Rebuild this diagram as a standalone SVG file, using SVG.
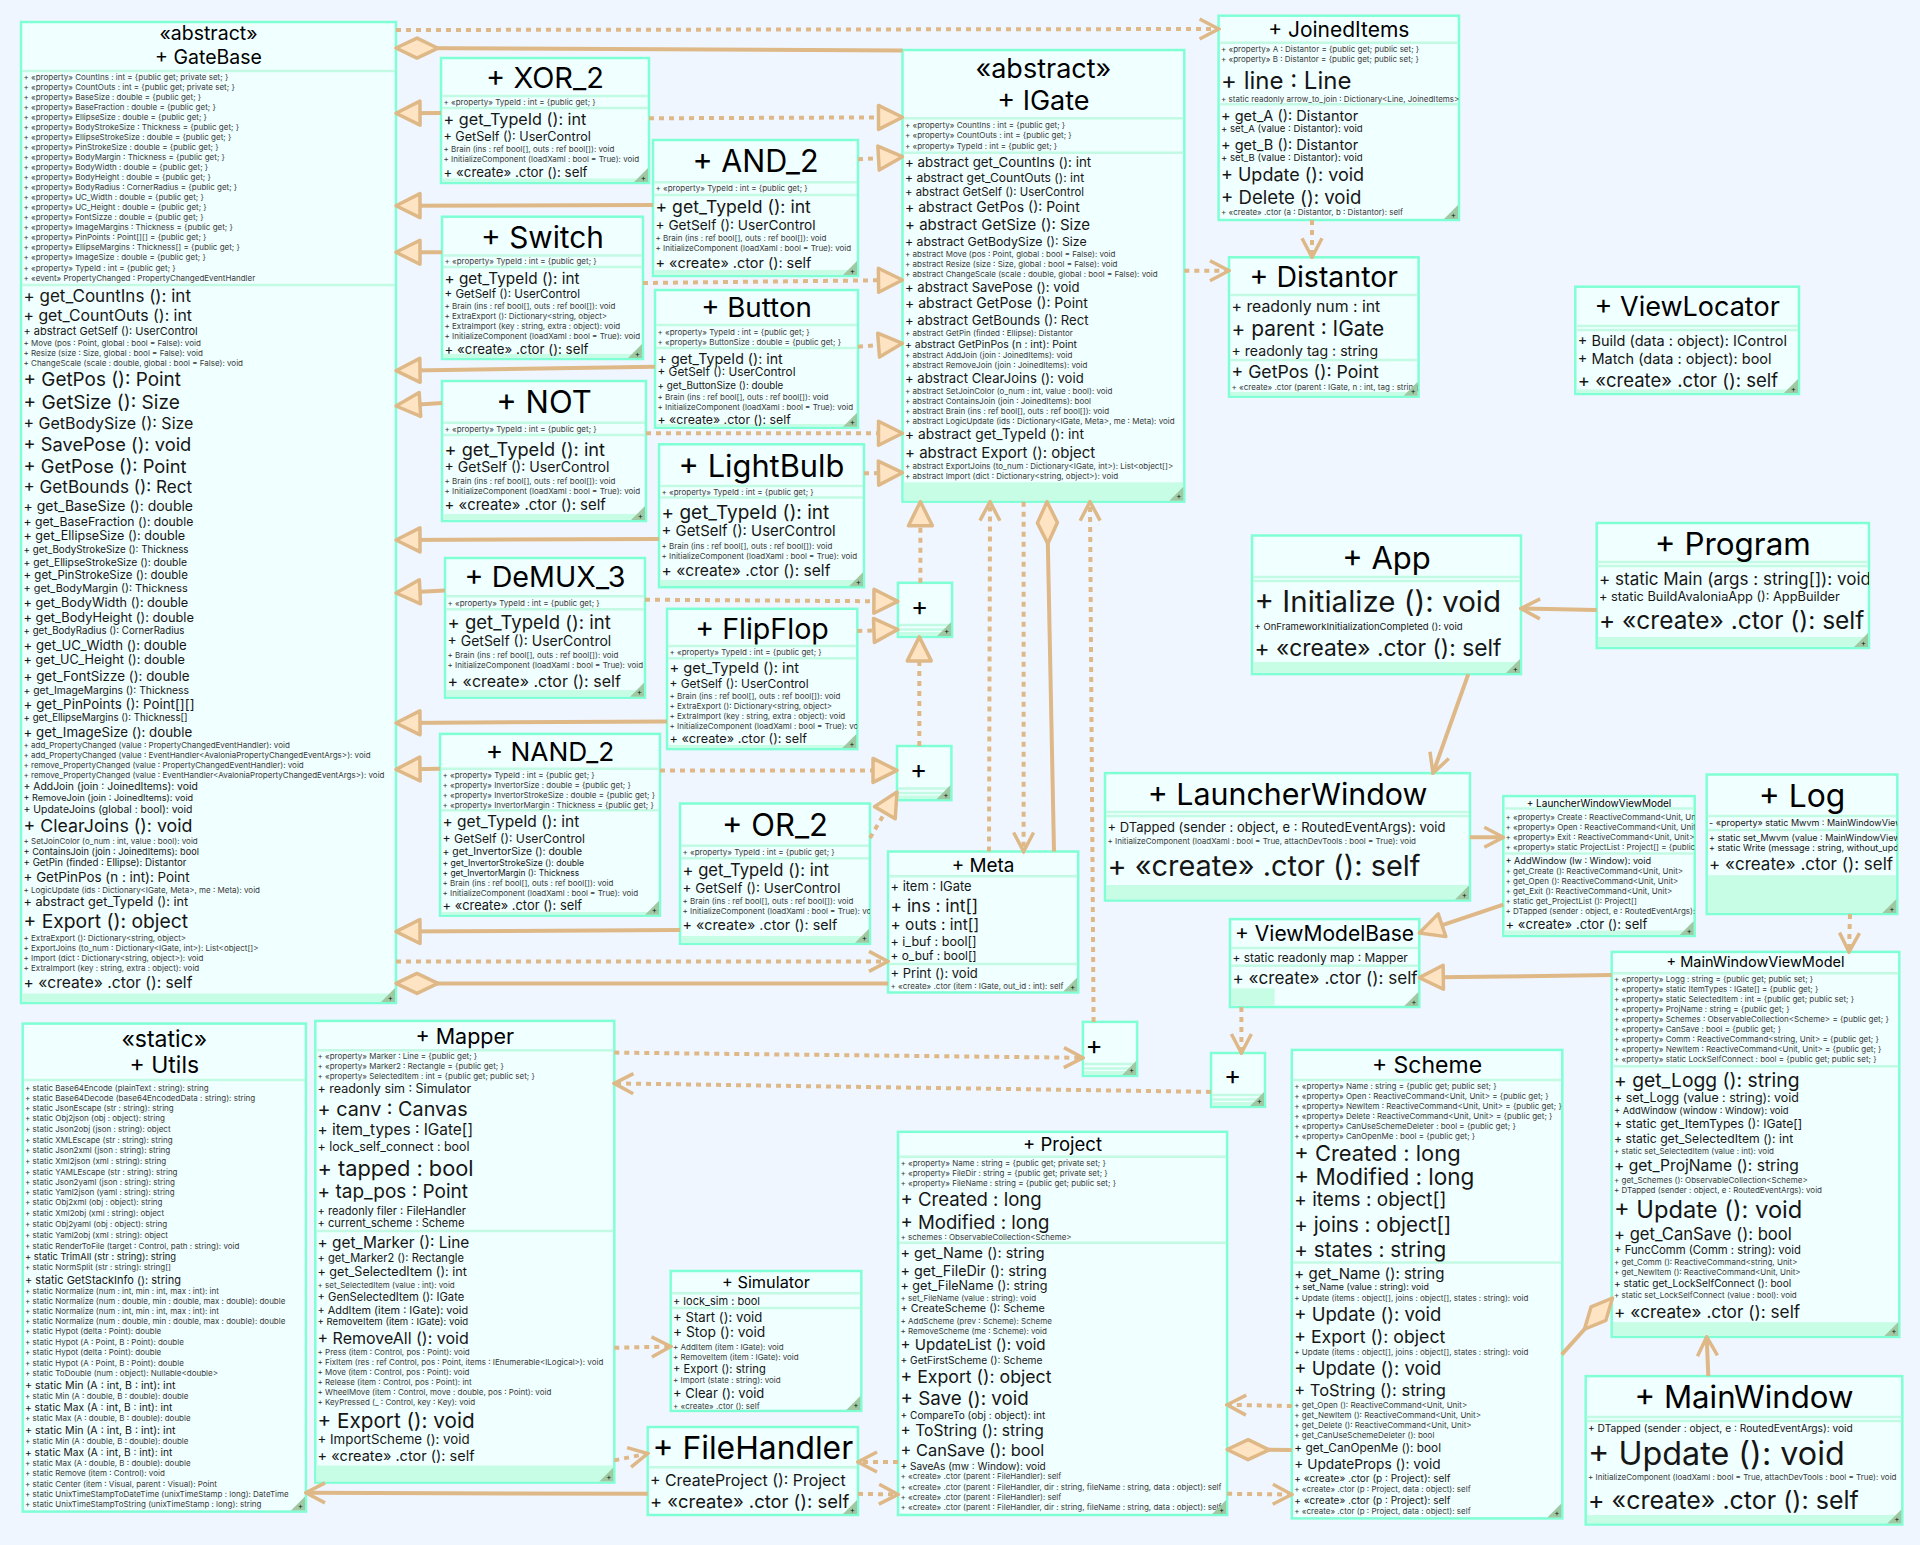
<svg xmlns="http://www.w3.org/2000/svg" width="1920" height="1545" viewBox="0 0 1920 1545">
<defs>
<style>
text{font-family:Inter,"Liberation Sans",sans-serif;fill:#161616;dominant-baseline:central}
.s{font-size:8px;fill:#3a3a3a}
.tt{text-anchor:middle;fill:#000}
.nb{fill:#F0FFFF;stroke:#7FFFD4;stroke-width:2.5}
.sp{stroke:#C2FAE3;stroke-width:2.5;fill:none}
.ms{fill:#C8FDE5}
.e{stroke:#DEB887;stroke-width:4;fill:none}
.d{stroke-dasharray:5 5}
.pl{font-size:26px;fill:#000}
.mk{fill:#FFE4C4;stroke:#DEB887;stroke-width:3.5;stroke-dasharray:none;stroke-linejoin:round}
.mc{fill:none;stroke:#DEB887;stroke-width:3.5;stroke-dasharray:none}
</style>
<marker id="tri" viewBox="0 0 30 30" refX="27" refY="15" markerWidth="30" markerHeight="30" markerUnits="userSpaceOnUse" orient="auto"><path class="mk" d="M3,3 L27,15 L3,27 Z"/></marker>
<marker id="chev" viewBox="0 0 24 24" refX="22" refY="12" markerWidth="24" markerHeight="24" markerUnits="userSpaceOnUse" orient="auto"><path class="mc" d="M3,2 L22,12 L3,22"/></marker>
<marker id="dia" viewBox="0 0 48 26" refX="2" refY="13" markerWidth="48" markerHeight="26" markerUnits="userSpaceOnUse" orient="auto"><path class="mk" d="M2,13 L23,3 L44,13 L23,23 Z"/></marker>
<g id="cr"><path d="M15,1V15H1Z" fill="#9FC9A3"/><text x="10.5" y="10.5" font-size="8" fill="#6A5A9A" text-anchor="middle">+</text></g>
</defs>
<rect width="1920" height="1545" fill="#F0F6FF"/>

<g id="GateBase">
<rect class="nb" x="21" y="22" width="375" height="981"/>
<path class="sp" d="M22,71H395M22,285H395"/>
<rect class="ms" x="22.2" y="993.5" width="372.6" height="8.3"/>
<svg x="21" y="22" width="375" height="981" viewBox="21 22 375 981">
<text class="tt" x="208.5" y="33.3" font-size="19.5">«abstract»</text>
<text class="tt" x="208.5" y="57" font-size="19.5">+ GateBase</text>
<text class="s" x="23.5" y="76.7">+ «property» CountIns : int = {public get; private set; }</text>
<text class="s" x="23.5" y="86.7">+ «property» CountOuts : int = {public get; private set; }</text>
<text class="s" x="23.5" y="96.7">+ «property» BaseSize : double = {public get; }</text>
<text class="s" x="23.5" y="106.7">+ «property» BaseFraction : double = {public get; }</text>
<text class="s" x="23.5" y="116.7">+ «property» EllipseSize : double = {public get; }</text>
<text class="s" x="23.5" y="126.7">+ «property» BodyStrokeSize : Thickness = {public get; }</text>
<text class="s" x="23.5" y="136.7">+ «property» EllipseStrokeSize : double = {public get; }</text>
<text class="s" x="23.5" y="146.7">+ «property» PinStrokeSize : double = {public get; }</text>
<text class="s" x="23.5" y="156.7">+ «property» BodyMargin : Thickness = {public get; }</text>
<text class="s" x="23.5" y="166.7">+ «property» BodyWidth : double = {public get; }</text>
<text class="s" x="23.5" y="176.7">+ «property» BodyHeight : double = {public get; }</text>
<text class="s" x="23.5" y="186.7">+ «property» BodyRadius : CornerRadius = {public get; }</text>
<text class="s" x="23.5" y="196.7">+ «property» UC_Width : double = {public get; }</text>
<text class="s" x="23.5" y="206.7">+ «property» UC_Height : double = {public get; }</text>
<text class="s" x="23.5" y="216.7">+ «property» FontSizze : double = {public get; }</text>
<text class="s" x="23.5" y="226.7">+ «property» ImageMargins : Thickness = {public get; }</text>
<text class="s" x="23.5" y="236.7">+ «property» PinPoints : Point[][] = {public get; }</text>
<text class="s" x="23.5" y="246.7">+ «property» EllipseMargins : Thickness[] = {public get; }</text>
<text class="s" x="23.5" y="256.7">+ «property» ImageSize : double = {public get; }</text>
<text class="s" x="23.5" y="267.7" font-size="8.8">+ «property» TypeId : int = {public get; }</text>
<text class="s" x="23.5" y="277.7">+ «event» PropertyChanged : PropertyChangedEventHandler</text>
<text x="23.5" y="296" font-size="17">+ get_CountIns (): int</text>
<text x="23.5" y="315.3" font-size="15.8">+ get_CountOuts (): int</text>
<text x="23.5" y="331" font-size="11">+ abstract GetSelf (): UserControl</text>
<text class="s" x="23.5" y="342.7">+ Move (pos : Point, global : bool = False): void</text>
<text class="s" x="23.5" y="352.7">+ Resize (size : Size, global : bool = False): void</text>
<text class="s" x="23.5" y="362.7">+ ChangeScale (scale : double, global : bool = False): void</text>
<text x="23.5" y="379.3" font-size="18.9">+ GetPos (): Point</text>
<text x="23.5" y="401.7" font-size="19.1">+ GetSize (): Size</text>
<text x="23.5" y="422.7" font-size="16">+ GetBodySize (): Size</text>
<text x="23.5" y="444.3" font-size="18.3">+ SavePose (): void</text>
<text x="23.5" y="466" font-size="18.3">+ GetPose (): Point</text>
<text x="23.5" y="486.7" font-size="17.1">+ GetBounds (): Rect</text>
<text x="23.5" y="505" font-size="14">+ get_BaseSize (): double</text>
<text x="23.5" y="521.6" font-size="12.2">+ get_BaseFraction (): double</text>
<text x="23.5" y="535.8" font-size="12.6">+ get_EllipseSize (): double</text>
<text x="23.5" y="549.3" font-size="9.8">+ get_BodyStrokeSize (): Thickness</text>
<text x="23.5" y="562.2" font-size="10.3">+ get_EllipseStrokeSize (): double</text>
<text x="23.5" y="575" font-size="11.5">+ get_PinStrokeSize (): double</text>
<text x="23.5" y="587.9" font-size="10.9">+ get_BodyMargin (): Thickness</text>
<text x="23.5" y="602.1" font-size="12.7">+ get_BodyWidth (): double</text>
<text x="23.5" y="617" font-size="12.8">+ get_BodyHeight (): double</text>
<text x="23.5" y="630.1" font-size="9.7">+ get_BodyRadius (): CornerRadius</text>
<text x="23.5" y="644.7" font-size="13.2">+ get_UC_Width (): double</text>
<text x="23.5" y="659.9" font-size="12.7">+ get_UC_Height (): double</text>
<text x="23.5" y="675.8" font-size="13.4">+ get_FontSizze (): double</text>
<text x="23.5" y="690.3" font-size="10.3">+ get_ImageMargins (): Thickness</text>
<text x="23.5" y="703.8" font-size="13.4">+ get_PinPoints (): Point[][]</text>
<text x="23.5" y="717" font-size="9.7">+ get_EllipseMargins (): Thickness[]</text>
<text x="23.5" y="731.9" font-size="13.3">+ get_ImageSize (): double</text>
<text class="s" x="23.5" y="744.7">+ add_PropertyChanged (value : PropertyChangedEventHandler): void</text>
<text class="s" x="23.5" y="754.9">+ add_PropertyChanged (value : EventHandler&lt;AvaloniaPropertyChangedEventArgs&gt;): void</text>
<text class="s" x="23.5" y="765">+ remove_PropertyChanged (value : PropertyChangedEventHandler): void</text>
<text class="s" x="23.5" y="774.8">+ remove_PropertyChanged (value : EventHandler&lt;AvaloniaPropertyChangedEventArgs&gt;): void</text>
<text x="23.5" y="786.3" font-size="10.4">+ AddJoin (join : JoinedItems): void</text>
<text x="23.5" y="797.8" font-size="9.1">+ RemoveJoin (join : JoinedItems): void</text>
<text x="23.5" y="809.3" font-size="10.4">+ UpdateJoins (global : bool): void</text>
<text x="23.5" y="825.5" font-size="17.8">+ ClearJoins (): void</text>
<text class="s" x="23.5" y="840.7" font-size="8.5">+ SetJoinColor (o_num : int, value : bool): void</text>
<text x="23.5" y="851.5" font-size="9.2">+ ContainsJoin (join : JoinedItems): bool</text>
<text x="23.5" y="862" font-size="9.7">+ GetPin (finded : Ellipse): Distantor</text>
<text x="23.5" y="876.5" font-size="13.4">+ GetPinPos (n : int): Point</text>
<text class="s" x="23.5" y="889.7">+ LogicUpdate (ids : Dictionary&lt;IGate, Meta&gt;, me : Meta): void</text>
<text x="23.5" y="901.9" font-size="12.7">+ abstract get_TypeId (): int</text>
<text x="23.5" y="920.8" font-size="19.3">+ Export (): object</text>
<text class="s" x="23.5" y="937.7">+ ExtraExport (): Dictionary&lt;string, object&gt;</text>
<text class="s" x="23.5" y="947.9">+ ExportJoins (to_num : Dictionary&lt;IGate, int&gt;): List&lt;object[]&gt;</text>
<text class="s" x="23.5" y="957.7">+ Import (dict : Dictionary&lt;string, object&gt;): void</text>
<text class="s" x="23.5" y="967.8">+ ExtraImport (key : string, extra : object): void</text>
<text x="23.5" y="982.7" font-size="15.6">+ «create» .ctor (): self</text>
</svg>
<use href="#cr" x="380" y="987"/>
</g>

<g id="XOR_2">
<rect class="nb" x="441" y="58" width="208" height="125"/>
<path class="sp" d="M442,96H648M442,108H648"/>
<rect class="ms" x="442.2" y="178.5" width="205.6" height="3.3"/>
<svg x="441" y="58" width="208" height="125" viewBox="441 58 208 125">
<text class="tt" x="545" y="77.3" font-size="29">+ XOR_2</text>
<text class="s" x="443.5" y="101.7">+ «property» TypeId : int = {public get; }</text>
<text x="443.5" y="119" font-size="16.2">+ get_TypeId (): int</text>
<text x="443.5" y="136.7" font-size="12.6">+ GetSelf (): UserControl</text>
<text class="s" x="443.5" y="148.7">+ Brain (ins : ref bool[], outs : ref bool[]): void</text>
<text class="s" x="443.5" y="158.7">+ InitializeComponent (loadXaml : bool = True): void</text>
<text x="443.5" y="172" font-size="13.3">+ «create» .ctor (): self</text>
</svg>
<use href="#cr" x="633" y="167"/>
</g>

<g id="AND_2">
<rect class="nb" x="653" y="140" width="205" height="136"/>
<path class="sp" d="M654,182.3H857M654,195H857"/>
<rect class="ms" x="654.2" y="270" width="202.6" height="4.8"/>
<svg x="653" y="140" width="205" height="136" viewBox="653 140 205 136">
<text class="tt" x="755.5" y="160.7" font-size="30.5">+ AND_2</text>
<text class="s" x="655.5" y="188.3">+ «property» TypeId : int = {public get; }</text>
<text x="655.5" y="206.7" font-size="17.6">+ get_TypeId (): int</text>
<text x="655.5" y="224.7" font-size="13.7">+ GetSelf (): UserControl</text>
<text class="s" x="655.5" y="237.7">+ Brain (ins : ref bool[], outs : ref bool[]): void</text>
<text class="s" x="655.5" y="247.7">+ InitializeComponent (loadXaml : bool = True): void</text>
<text x="655.5" y="262" font-size="14.4">+ «create» .ctor (): self</text>
</svg>
<use href="#cr" x="842" y="260"/>
</g>

<g id="Switch">
<rect class="nb" x="442" y="216.7" width="201" height="142.3"/>
<path class="sp" d="M443,255.5H642M443,267H642"/>
<rect class="ms" x="443.2" y="354" width="198.6" height="3.8"/>
<svg x="442" y="216.7" width="201" height="142.3" viewBox="442 216.7 201 142.3">
<text class="tt" x="542.5" y="236.7" font-size="29.8">+ Switch</text>
<text class="s" x="444.5" y="261">+ «property» TypeId : int = {public get; }</text>
<text x="444.5" y="278" font-size="15.3">+ get_TypeId (): int</text>
<text x="444.5" y="294" font-size="11.6">+ GetSelf (): UserControl</text>
<text class="s" x="444.5" y="305.7">+ Brain (ins : ref bool[], outs : ref bool[]): void</text>
<text class="s" x="444.5" y="315.7">+ ExtraExport (): Dictionary&lt;string, object&gt;</text>
<text class="s" x="444.5" y="325.7">+ ExtraImport (key : string, extra : object): void</text>
<text class="s" x="444.5" y="335.7">+ InitializeComponent (loadXaml : bool = True): void</text>
<text x="444.5" y="349" font-size="13.3">+ «create» .ctor (): self</text>
</svg>
<use href="#cr" x="627" y="343"/>
</g>

<g id="Button">
<rect class="nb" x="655" y="290" width="203" height="137.7"/>
<path class="sp" d="M656,325H857M656,348H857"/>
<rect class="ms" x="656.2" y="424" width="200.6" height="2.5"/>
<svg x="655" y="290" width="203" height="137.7" viewBox="655 290 203 137.7">
<text class="tt" x="756.5" y="307.3" font-size="27.7">+ Button</text>
<text class="s" x="657.5" y="332">+ «property» TypeId : int = {public get; }</text>
<text class="s" x="657.5" y="342">+ «property» ButtonSize : double = {public get; }</text>
<text x="657.5" y="358" font-size="14.2">+ get_TypeId (): int</text>
<text x="657.5" y="372.3" font-size="11.8">+ GetSelf (): UserControl</text>
<text x="657.5" y="385.3" font-size="9.8">+ get_ButtonSize (): double</text>
<text class="s" x="657.5" y="396.7">+ Brain (ins : ref bool[], outs : ref bool[]): void</text>
<text class="s" x="657.5" y="406.7">+ InitializeComponent (loadXaml : bool = True): void</text>
<text x="657.5" y="419.3" font-size="12.3">+ «create» .ctor (): self</text>
</svg>
<use href="#cr" x="842" y="411.7"/>
</g>

<g id="NOT">
<rect class="nb" x="442" y="381" width="204" height="140"/>
<path class="sp" d="M443,422.7H645M443,435H645"/>
<rect class="ms" x="443.2" y="514" width="201.6" height="5.8"/>
<svg x="442" y="381" width="204" height="140" viewBox="442 381 204 140">
<text class="tt" x="544" y="401" font-size="31">+ NOT</text>
<text class="s" x="444.5" y="429">+ «property» TypeId : int = {public get; }</text>
<text x="444.5" y="449" font-size="18.2">+ get_TypeId (): int</text>
<text x="444.5" y="466.7" font-size="14.1">+ GetSelf (): UserControl</text>
<text class="s" x="444.5" y="480.7">+ Brain (ins : ref bool[], outs : ref bool[]): void</text>
<text class="s" x="444.5" y="490.7">+ InitializeComponent (loadXaml : bool = True): void</text>
<text x="444.5" y="505" font-size="14.9">+ «create» .ctor (): self</text>
</svg>
<use href="#cr" x="630" y="505"/>
</g>

<g id="LightBulb">
<rect class="nb" x="659" y="444.3" width="205" height="142.9"/>
<path class="sp" d="M660,486H863M660,497.5H863"/>
<rect class="ms" x="660.2" y="580" width="202.6" height="6"/>
<svg x="659" y="444.3" width="205" height="142.9" viewBox="659 444.3 205 142.9">
<text class="tt" x="761.5" y="465.7" font-size="30.8">+ LightBulb</text>
<text class="s" x="661.5" y="491.7">+ «property» TypeId : int = {public get; }</text>
<text x="661.5" y="512.8" font-size="19">+ get_TypeId (): int</text>
<text x="661.5" y="531.4" font-size="14.9">+ GetSelf (): UserControl</text>
<text class="s" x="661.5" y="545.6">+ Brain (ins : ref bool[], outs : ref bool[]): void</text>
<text class="s" x="661.5" y="555.8">+ InitializeComponent (loadXaml : bool = True): void</text>
<text x="661.5" y="570.3" font-size="15.6">+ «create» .ctor (): self</text>
</svg>
<use href="#cr" x="848" y="571.2"/>
</g>

<g id="DeMUX_3">
<rect class="nb" x="445" y="558" width="200" height="139.7"/>
<path class="sp" d="M446,596.3H644M446,609.2H644"/>
<rect class="ms" x="446.2" y="690" width="197.6" height="6.5"/>
<svg x="445" y="558" width="200" height="139.7" viewBox="445 558 200 139.7">
<text class="tt" x="545" y="576.7" font-size="28.7">+ DeMUX_3</text>
<text class="s" x="447.5" y="602.8">+ «property» TypeId : int = {public get; }</text>
<text x="447.5" y="622.4" font-size="18.5">+ get_TypeId (): int</text>
<text x="447.5" y="640.6" font-size="14">+ GetSelf (): UserControl</text>
<text class="s" x="447.5" y="654.8">+ Brain (ins : ref bool[], outs : ref bool[]): void</text>
<text class="s" x="447.5" y="665">+ InitializeComponent (loadXaml : bool = True): void</text>
<text x="447.5" y="680.8" font-size="16">+ «create» .ctor (): self</text>
</svg>
<use href="#cr" x="629" y="681.7"/>
</g>

<g id="FlipFlop">
<rect class="nb" x="667" y="608.8" width="190.3" height="140.3"/>
<path class="sp" d="M668,646H856.3M668,658.2H856.3"/>
<rect class="ms" x="668.2" y="745" width="187.9" height="2.9"/>
<svg x="667" y="608.8" width="190.3" height="140.3" viewBox="667 608.8 190.3 140.3">
<text class="tt" x="762" y="628.4" font-size="28.6">+ FlipFlop</text>
<text class="s" x="669.5" y="652.1">+ «property» TypeId : int = {public get; }</text>
<text x="669.5" y="668" font-size="14.7">+ get_TypeId (): int</text>
<text x="669.5" y="683.5" font-size="11.9">+ GetSelf (): UserControl</text>
<text class="s" x="669.5" y="695.7">+ Brain (ins : ref bool[], outs : ref bool[]): void</text>
<text class="s" x="669.5" y="705.8">+ ExtraExport (): Dictionary&lt;string, object&gt;</text>
<text class="s" x="669.5" y="715.6">+ ExtraImport (key : string, extra : object): void</text>
<text class="s" x="669.5" y="725.8">+ InitializeComponent (loadXaml : bool = True): void</text>
<text x="669.5" y="738.3" font-size="12.7">+ «create» .ctor (): self</text>
</svg>
<use href="#cr" x="841.3" y="733.1"/>
</g>

<g id="NAND_2">
<rect class="nb" x="440" y="733.9" width="220" height="181.8"/>
<path class="sp" d="M441,768.7H659M441,810.3H659"/>
<rect class="ms" x="441.2" y="912" width="217.6" height="2.5"/>
<svg x="440" y="733.9" width="220" height="181.8" viewBox="440 733.9 220 181.8">
<text class="tt" x="550" y="751.8" font-size="26.3">+ NAND_2</text>
<text class="s" x="442.5" y="774.8">+ «property» TypeId : int = {public get; }</text>
<text class="s" x="442.5" y="784.9">+ «property» InvertorSize : double = {public get; }</text>
<text class="s" x="442.5" y="795.1">+ «property» InvertorStrokeSize : double = {public get; }</text>
<text class="s" x="442.5" y="804.9">+ «property» InvertorMargin : Thickness = {public get; }</text>
<text x="442.5" y="821.1" font-size="15.5">+ get_TypeId (): int</text>
<text x="442.5" y="838.3" font-size="12.2">+ GetSelf (): UserControl</text>
<text x="442.5" y="851.9" font-size="10.4">+ get_InvertorSize (): double</text>
<text x="442.5" y="862.7" font-size="8.6">+ get_InvertorStrokeSize (): double</text>
<text x="442.5" y="872.8" font-size="8.4">+ get_InvertorMargin (): Thickness</text>
<text class="s" x="442.5" y="882.6">+ Brain (ins : ref bool[], outs : ref bool[]): void</text>
<text class="s" x="442.5" y="892.8">+ InitializeComponent (loadXaml : bool = True): void</text>
<text x="442.5" y="905.6" font-size="12.9">+ «create» .ctor (): self</text>
</svg>
<use href="#cr" x="644" y="899.7"/>
</g>

<g id="OR_2">
<rect class="nb" x="680" y="803.5" width="190" height="140.3"/>
<path class="sp" d="M681,845.8H869M681,858.3H869"/>
<rect class="ms" x="681.2" y="936" width="187.6" height="6.6"/>
<svg x="680" y="803.5" width="190" height="140.3" viewBox="680 803.5 190 140.3">
<text class="tt" x="775" y="824.5" font-size="31">+ OR_2</text>
<text class="s" x="682.5" y="851.9">+ «property» TypeId : int = {public get; }</text>
<text x="682.5" y="869.8" font-size="16.6">+ get_TypeId (): int</text>
<text x="682.5" y="887.7" font-size="13.5">+ GetSelf (): UserControl</text>
<text class="s" x="682.5" y="900.5">+ Brain (ins : ref bool[], outs : ref bool[]): void</text>
<text class="s" x="682.5" y="910.7">+ InitializeComponent (loadXaml : bool = True): void</text>
<text x="682.5" y="924.9" font-size="14.3">+ «create» .ctor (): self</text>
</svg>
<use href="#cr" x="854" y="927.8"/>
</g>

<g id="IGate">
<rect class="nb" x="902.5" y="50" width="281.8" height="451.7"/>
<path class="sp" d="M903.5,118.3H1183.3M903.5,152.7H1183.3"/>
<rect class="ms" x="903.7" y="482.3" width="279.4" height="18.2"/>
<svg x="902.5" y="50" width="281.8" height="451.7" viewBox="902.5 50 281.8 451.7">
<text class="tt" x="1043.4" y="68.3" font-size="27">«abstract»</text>
<text class="tt" x="1043.4" y="100" font-size="27">+ IGate</text>
<text class="s" x="905" y="125">+ «property» CountIns : int = {public get; }</text>
<text class="s" x="905" y="135">+ «property» CountOuts : int = {public get; }</text>
<text class="s" x="905" y="146" font-size="8.6">+ «property» TypeId : int = {public get; }</text>
<text x="905" y="162" font-size="13.3">+ abstract get_CountIns (): int</text>
<text x="905" y="177.7" font-size="12.1">+ abstract get_CountOuts (): int</text>
<text x="905" y="192.3" font-size="11.3">+ abstract GetSelf (): UserControl</text>
<text x="905" y="206.7" font-size="14">+ abstract GetPos (): Point</text>
<text x="905" y="224.7" font-size="15">+ abstract GetSize (): Size</text>
<text x="905" y="241.3" font-size="12.3">+ abstract GetBodySize (): Size</text>
<text class="s" x="905" y="253.7">+ abstract Move (pos : Point, global : bool = False): void</text>
<text class="s" x="905" y="263.7">+ abstract Resize (size : Size, global : bool = False): void</text>
<text class="s" x="905" y="273.7">+ abstract ChangeScale (scale : double, global : bool = False): void</text>
<text x="905" y="286.7" font-size="13.1">+ abstract SavePose (): void</text>
<text x="905" y="302.7" font-size="14">+ abstract GetPose (): Point</text>
<text x="905" y="319.7" font-size="13.1">+ abstract GetBounds (): Rect</text>
<text class="s" x="905" y="332.7" font-size="8.7">+ abstract GetPin (finded : Ellipse): Distantor</text>
<text x="905" y="344" font-size="10.4">+ abstract GetPinPos (n : int): Point</text>
<text class="s" x="905" y="354.7" font-size="8.7">+ abstract AddJoin (join : JoinedItems): void</text>
<text class="s" x="905" y="364.7" font-size="8.3">+ abstract RemoveJoin (join : JoinedItems): void</text>
<text x="905" y="378" font-size="13.1">+ abstract ClearJoins (): void</text>
<text class="s" x="905" y="390.7">+ abstract SetJoinColor (o_num : int, value : bool): void</text>
<text class="s" x="905" y="400.7">+ abstract ContainsJoin (join : JoinedItems): bool</text>
<text class="s" x="905" y="410.7">+ abstract Brain (ins : ref bool[], outs : ref bool[]): void</text>
<text class="s" x="905" y="420.7">+ abstract LogicUpdate (ids : Dictionary&lt;IGate, Meta&gt;, me : Meta): void</text>
<text x="905" y="434" font-size="13.8">+ abstract get_TypeId (): int</text>
<text x="905" y="452" font-size="15">+ abstract Export (): object</text>
<text class="s" x="905" y="465.7">+ abstract ExportJoins (to_num : Dictionary&lt;IGate, int&gt;): List&lt;object[]&gt;</text>
<text class="s" x="905" y="475.7">+ abstract Import (dict : Dictionary&lt;string, object&gt;): void</text>
</svg>
<use href="#cr" x="1168.3" y="485.7"/>
</g>

<g id="JoinedItems">
<rect class="nb" x="1218.6" y="15.7" width="240.4" height="204.3"/>
<path class="sp" d="M1219.6,42.7H1458M1219.6,104.3H1458"/>
<svg x="1218.6" y="15.7" width="240.4" height="204.3" viewBox="1218.6 15.7 240.4 204.3">
<text class="tt" x="1338.8" y="29.3" font-size="21">+ JoinedItems</text>
<text class="s" x="1221" y="49">+ «property» A : Distantor = {public get; public set; }</text>
<text class="s" x="1221" y="59">+ «property» B : Distantor = {public get; public set; }</text>
<text x="1221" y="80" font-size="24">+ line : Line</text>
<text class="s" x="1221" y="99">+ static readonly arrow_to_join : Dictionary&lt;Line, JoinedItems&gt;</text>
<text x="1221" y="115" font-size="14.5">+ get_A (): Distantor</text>
<text x="1221" y="128.3" font-size="9.6">+ set_A (value : Distantor): void</text>
<text x="1221" y="144" font-size="14.5">+ get_B (): Distantor</text>
<text x="1221" y="157.3" font-size="9.6">+ set_B (value : Distantor): void</text>
<text x="1221" y="174.7" font-size="18">+ Update (): void</text>
<text x="1221" y="196.7" font-size="18.6">+ Delete (): void</text>
<text class="s" x="1221" y="212">+ «create» .ctor (a : Distantor, b : Distantor): self</text>
</svg>
<use href="#cr" x="1443" y="204"/>
</g>

<g id="Distantor">
<rect class="nb" x="1229" y="257.3" width="189.6" height="139.4"/>
<path class="sp" d="M1230,295H1417.6M1230,360H1417.6"/>
<rect class="ms" x="1230.2" y="392" width="187.2" height="3.5"/>
<svg x="1229" y="257.3" width="189.6" height="139.4" viewBox="1229 257.3 189.6 139.4">
<text class="tt" x="1323.8" y="276" font-size="28.5">+ Distantor</text>
<text x="1231.5" y="306" font-size="15.8">+ readonly num : int</text>
<text x="1231.5" y="328.7" font-size="20.9">+ parent : IGate</text>
<text x="1231.5" y="350" font-size="14.1">+ readonly tag : string</text>
<text x="1231.5" y="371.3" font-size="17.7">+ GetPos (): Point</text>
<text class="s" x="1231.5" y="387">+ «create» .ctor (parent : IGate, n : int, tag : string): self</text>
</svg>
<use href="#cr" x="1402.6" y="380.7"/>
</g>

<g id="ViewLocator">
<rect class="nb" x="1575.3" y="286.7" width="223.7" height="107.3"/>
<path class="sp" d="M1576.3,326H1798M1576.3,330H1798"/>
<rect class="ms" x="1576.5" y="389.5" width="221.3" height="3.3"/>
<svg x="1575.3" y="286.7" width="223.7" height="107.3" viewBox="1575.3 286.7 223.7 107.3">
<text class="tt" x="1687.2" y="306.7" font-size="27">+ ViewLocator</text>
<text x="1577.8" y="340.7" font-size="14.5">+ Build (data : object): IControl</text>
<text x="1577.8" y="358.7" font-size="14.5">+ Match (data : object): bool</text>
<text x="1577.8" y="380" font-size="18.5">+ «create» .ctor (): self</text>
</svg>
<use href="#cr" x="1783" y="378"/>
</g>

<g id="App">
<rect class="nb" x="1252" y="535.5" width="269" height="138.6"/>
<path class="sp" d="M1253,577H1520M1253,581H1520"/>
<rect class="ms" x="1253.2" y="662" width="266.6" height="10.9"/>
<svg x="1252" y="535.5" width="269" height="138.6" viewBox="1252 535.5 269 138.6">
<text class="tt" x="1386.5" y="557.5" font-size="31">+ App</text>
<text x="1254.5" y="601.4" font-size="29.5">+ Initialize (): void</text>
<text x="1254.5" y="626" font-size="9.5">+ OnFrameworkInitializationCompleted (): void</text>
<text x="1254.5" y="647" font-size="22.8">+ «create» .ctor (): self</text>
</svg>
<use href="#cr" x="1505" y="658.1"/>
</g>

<g id="Program">
<rect class="nb" x="1596.7" y="523" width="272.3" height="125"/>
<path class="sp" d="M1597.7,562H1868M1597.7,566H1868"/>
<rect class="ms" x="1597.9" y="637" width="269.9" height="9.8"/>
<svg x="1596.7" y="523" width="272.3" height="125" viewBox="1596.7 523 272.3 125">
<text class="tt" x="1732.8" y="544" font-size="31.4">+ Program</text>
<text x="1599" y="578.8" font-size="17">+ static Main (args : string[]): void</text>
<text x="1599" y="596.3" font-size="12.8">+ static BuildAvaloniaApp (): AppBuilder</text>
<text x="1599" y="620" font-size="24.5">+ «create» .ctor (): self</text>
</svg>
<use href="#cr" x="1853" y="632"/>
</g>

<g id="LauncherWindow">
<rect class="nb" x="1105" y="773.1" width="365" height="127.4"/>
<path class="sp" d="M1106,812H1469M1106,816H1469"/>
<rect class="ms" x="1106.2" y="885" width="362.6" height="14.3"/>
<svg x="1105" y="773.1" width="365" height="127.4" viewBox="1105 773.1 365 127.4">
<text class="tt" x="1287.5" y="794" font-size="30.4">+ LauncherWindow</text>
<text x="1107.5" y="826.9" font-size="13">+ DTapped (sender : object, e : RoutedEventArgs): void</text>
<text class="s" x="1107.5" y="840.7" font-size="9">+ InitializeComponent (loadXaml : bool = True, attachDevTools : bool = True): void</text>
<text x="1107.5" y="865.7" font-size="28.9">+ «create» .ctor (): self</text>
</svg>
<use href="#cr" x="1454" y="884.5"/>
</g>

<g id="LauncherWindowViewModel">
<rect class="nb" x="1503.3" y="796.1" width="191.4" height="139.9"/>
<path class="sp" d="M1504.3,808.6H1693.7M1504.3,853.6H1693.7"/>
<rect class="ms" x="1504.5" y="930.5" width="189" height="4.3"/>
<svg x="1503.3" y="796.1" width="191.4" height="139.9" viewBox="1503.3 796.1 191.4 139.9">
<text class="tt" x="1599" y="803.2" font-size="10">+ LauncherWindowViewModel</text>
<text class="s" x="1505.5" y="817">+ «property» Create : ReactiveCommand&lt;Unit, Unit&gt; = {public get; }</text>
<text class="s" x="1505.5" y="827.2">+ «property» Open : ReactiveCommand&lt;Unit, Unit&gt; = {public get; }</text>
<text class="s" x="1505.5" y="837">+ «property» Exit : ReactiveCommand&lt;Unit, Unit&gt; = {public get; }</text>
<text class="s" x="1505.5" y="847.1">+ «property» static ProjectList : Project[] = {public get; }</text>
<text x="1505.5" y="860.7" font-size="9.1">+ AddWindow (lw : Window): void</text>
<text class="s" x="1505.5" y="870.8">+ get_Create (): ReactiveCommand&lt;Unit, Unit&gt;</text>
<text class="s" x="1505.5" y="880.9">+ get_Open (): ReactiveCommand&lt;Unit, Unit&gt;</text>
<text class="s" x="1505.5" y="891.1">+ get_Exit (): ReactiveCommand&lt;Unit, Unit&gt;</text>
<text class="s" x="1505.5" y="900.9">+ static get_ProjectList (): Project[]</text>
<text class="s" x="1505.5" y="911">+ DTapped (sender : object, e : RoutedEventArgs): void</text>
<text x="1505.5" y="923.5" font-size="13.1">+ «create» .ctor (): self</text>
</svg>
<use href="#cr" x="1678.7" y="920"/>
</g>

<g id="Log">
<rect class="nb" x="1706.7" y="774.5" width="190.6" height="139.5"/>
<path class="sp" d="M1707.7,816H1896.3M1707.7,830H1896.3"/>
<rect class="ms" x="1707.9" y="875.2" width="188.2" height="37.6"/>
<svg x="1706.7" y="774.5" width="190.6" height="139.5" viewBox="1706.7 774.5 190.6 139.5">
<text class="tt" x="1802" y="795.8" font-size="31.8">+ Log</text>
<text x="1709" y="822.8" font-size="9">- «property» static Mwvm : MainWindowViewModel = {public get; }</text>
<text x="1709" y="837" font-size="9">+ static set_Mwvm (value : MainWindowViewModel): void</text>
<text x="1709" y="847.8" font-size="9">+ static Write (message : string, without_update : bool = False): void</text>
<text x="1709" y="864" font-size="17">+ «create» .ctor (): self</text>
</svg>
<use href="#cr" x="1881.3" y="898"/>
</g>

<g id="ViewModelBase">
<rect class="nb" x="1230" y="919.1" width="189.3" height="87.9"/>
<path class="sp" d="M1231,947.9H1418.3M1231,965.8H1418.3"/>
<rect class="ms" x="1231.2" y="988.4" width="43.4" height="17.4"/>
<svg x="1230" y="919.1" width="189.3" height="87.9" viewBox="1230 919.1 189.3 87.9">
<text class="tt" x="1324.6" y="933.3" font-size="21">+ ViewModelBase</text>
<text x="1232.5" y="957" font-size="11.9">+ static readonly map : Mapper</text>
<text x="1232.5" y="977.3" font-size="17.1">+ «create» .ctor (): self</text>
</svg>
<use href="#cr" x="1403.3" y="991"/>
</g>

<g id="MainWindowViewModel">
<rect class="nb" x="1611.7" y="951.9" width="287.6" height="385"/>
<path class="sp" d="M1612.7,973.2H1898.3M1612.7,1066.3H1898.3"/>
<rect class="ms" x="1612.9" y="1322.2" width="285.2" height="13.5"/>
<svg x="1611.7" y="951.9" width="287.6" height="385" viewBox="1611.7 951.9 287.6 385">
<text class="tt" x="1755.5" y="961.7" font-size="14.5">+ MainWindowViewModel</text>
<text class="s" x="1614" y="979">+ «property» Logg : string = {public get; public set; }</text>
<text class="s" x="1614" y="989.1">+ «property» static ItemTypes : IGate[] = {public get; }</text>
<text class="s" x="1614" y="998.9">+ «property» static SelectedItem : int = {public get; public set; }</text>
<text class="s" x="1614" y="1009">+ «property» ProjName : string = {public get; }</text>
<text class="s" x="1614" y="1018.7">+ «property» Schemes : ObservableCollection&lt;Scheme&gt; = {public get; }</text>
<text class="s" x="1614" y="1028.8">+ «property» CanSave : bool = {public get; }</text>
<text class="s" x="1614" y="1039">+ «property» Comm : ReactiveCommand&lt;string, Unit&gt; = {public get; }</text>
<text class="s" x="1614" y="1049.2">+ «property» NewItem : ReactiveCommand&lt;Unit, Unit&gt; = {public get; }</text>
<text class="s" x="1614" y="1058.8">+ «property» static LockSelfConnect : bool = {public get; public set; }</text>
<text x="1614" y="1080" font-size="19.3">+ get_Logg (): string</text>
<text x="1614" y="1097.7" font-size="12.4">+ set_Logg (value : string): void</text>
<text x="1614" y="1110.7" font-size="9.4">+ AddWindow (window : Window): void</text>
<text x="1614" y="1123.6" font-size="12.2">+ static get_ItemTypes (): IGate[]</text>
<text x="1614" y="1138.6" font-size="12.2">+ static get_SelectedItem (): int</text>
<text class="s" x="1614" y="1150.6" font-size="8.6">+ static set_SelectedItem (value : int): void</text>
<text x="1614" y="1165.9" font-size="15.6">+ get_ProjName (): string</text>
<text class="s" x="1614" y="1179.6">+ get_Schemes (): ObservableCollection&lt;Scheme&gt;</text>
<text class="s" x="1614" y="1189.8">+ DTapped (sender : object, e : RoutedEventArgs): void</text>
<text x="1614" y="1209.6" font-size="23.7">+ Update (): void</text>
<text x="1614" y="1233.5" font-size="16.6">+ get_CanSave (): bool</text>
<text x="1614" y="1249.9" font-size="11.3">+ FuncComm (Comm : string): void</text>
<text class="s" x="1614" y="1261.8">+ get_Comm (): ReactiveCommand&lt;string, Unit&gt;</text>
<text class="s" x="1614" y="1272">+ get_NewItem (): ReactiveCommand&lt;Unit, Unit&gt;</text>
<text x="1614" y="1283" font-size="10.1">+ static get_LockSelfConnect (): bool</text>
<text class="s" x="1614" y="1294.9">+ static set_LockSelfConnect (value : bool): void</text>
<text x="1614" y="1311" font-size="17.2">+ «create» .ctor (): self</text>
</svg>
<use href="#cr" x="1883.3" y="1320.9"/>
</g>

<g id="MainWindow">
<rect class="nb" x="1585.7" y="1376.1" width="316.6" height="148.4"/>
<path class="sp" d="M1586.7,1417H1901.3M1586.7,1421H1901.3"/>
<rect class="ms" x="1586.9" y="1515" width="314.2" height="8.3"/>
<svg x="1585.7" y="1376.1" width="316.6" height="148.4" viewBox="1585.7 1376.1 316.6 148.4">
<text class="tt" x="1744" y="1396.6" font-size="31.2">+ MainWindow</text>
<text x="1588" y="1428" font-size="10.2">+ DTapped (sender : object, e : RoutedEventArgs): void</text>
<text x="1588" y="1453.6" font-size="32.3">+ Update (): void</text>
<text class="s" x="1588" y="1477.4" font-size="8.7">+ InitializeComponent (loadXaml : bool = True, attachDevTools : bool = True): void</text>
<text x="1588" y="1499.6" font-size="25">+ «create» .ctor (): self</text>
</svg>
<use href="#cr" x="1886.3" y="1508.5"/>
</g>

<g id="Utils">
<rect class="nb" x="22.7" y="1023.6" width="283.3" height="488"/>
<path class="sp" d="M23.7,1080H305"/>
<svg x="22.7" y="1023.6" width="283.3" height="488" viewBox="22.7 1023.6 283.3 488">
<text class="tt" x="164.3" y="1039" font-size="23">«static»</text>
<text class="tt" x="164.3" y="1065.3" font-size="23">+ Utils</text>
<text class="s" x="25" y="1087.8">+ static Base64Encode (plainText : string): string</text>
<text class="s" x="25" y="1098">+ static Base64Decode (base64EncodedData : string): string</text>
<text class="s" x="25" y="1107.9" font-size="8.3">+ static JsonEscape (str : string): string</text>
<text class="s" x="25" y="1118.2" font-size="8.8">+ static Obj2json (obj : object): string</text>
<text class="s" x="25" y="1128.7" font-size="8.9">+ static Json2obj (json : string): object</text>
<text class="s" x="25" y="1139.7" font-size="8.3">+ static XMLEscape (str : string): string</text>
<text class="s" x="25" y="1149.9" font-size="8.8">+ static Json2xml (json : string): string</text>
<text class="s" x="25" y="1160.8" font-size="8.8">+ static Xml2json (xml : string): string</text>
<text class="s" x="25" y="1171.7" font-size="8.5">+ static YAMLEscape (str : string): string</text>
<text class="s" x="25" y="1182" font-size="8.5">+ static Json2yaml (json : string): string</text>
<text class="s" x="25" y="1191.9" font-size="8.5">+ static Yaml2json (yaml : string): string</text>
<text class="s" x="25" y="1202.1" font-size="8.8">+ static Obj2xml (obj : object): string</text>
<text class="s" x="25" y="1213" font-size="8.8">+ static Xml2obj (xml : string): object</text>
<text class="s" x="25" y="1223.9" font-size="8.8">+ static Obj2yaml (obj : object): string</text>
<text class="s" x="25" y="1234.9" font-size="8.6">+ static Yaml2obj (xml : string): object</text>
<text class="s" x="25" y="1245.8">+ static RenderToFile (target : Control, path : string): void</text>
<text x="25" y="1256.7" font-size="9.4">+ static TrimAll (str : string): string</text>
<text class="s" x="25" y="1266.6" font-size="8.8">+ static NormSplit (str : string): string[]</text>
<text x="25" y="1280.2" font-size="11">+ static GetStackInfo (): string</text>
<text class="s" x="25" y="1290.8">+ static Normalize (num : int, min : int, max : int): int</text>
<text class="s" x="25" y="1301">+ static Normalize (num : double, min : double, max : double): double</text>
<text class="s" x="25" y="1310.9">+ static Normalize (num : int, min : int, max : int): int</text>
<text class="s" x="25" y="1320.8">+ static Normalize (num : double, min : double, max : double): double</text>
<text class="s" x="25" y="1331" font-size="8.6">+ static Hypot (delta : Point): double</text>
<text class="s" x="25" y="1341.6" font-size="8.3">+ static Hypot (A : Point, B : Point): double</text>
<text class="s" x="25" y="1351.9" font-size="8.6">+ static Hypot (delta : Point): double</text>
<text class="s" x="25" y="1362.8" font-size="8.3">+ static Hypot (A : Point, B : Point): double</text>
<text class="s" x="25" y="1373">+ static ToDouble (num : object): Nullable&lt;double&gt;</text>
<text x="25" y="1385.3" font-size="10.6">+ static Min (A : int, B : int): int</text>
<text class="s" x="25" y="1395.9">+ static Min (A : double, B : double): double</text>
<text x="25" y="1407.2" font-size="10.2">+ static Max (A : int, B : int): int</text>
<text class="s" x="25" y="1417.7">+ static Max (A : double, B : double): double</text>
<text x="25" y="1430" font-size="10.6">+ static Min (A : int, B : int): int</text>
<text class="s" x="25" y="1440.9">+ static Min (A : double, B : double): double</text>
<text x="25" y="1452.2" font-size="10.2">+ static Max (A : int, B : int): int</text>
<text class="s" x="25" y="1462.8">+ static Max (A : double, B : double): double</text>
<text class="s" x="25" y="1473" font-size="8.3">+ static Remove (item : Control): void</text>
<text class="s" x="25" y="1483.9">+ static Center (item : Visual, parent : Visual): Point</text>
<text class="s" x="25" y="1493.8">+ static UnixTimeStampToDateTime (unixTimeStamp : long): DateTime</text>
<text class="s" x="25" y="1504.1">+ static UnixTimeStampToString (unixTimeStamp : long): string</text>
</svg>
<use href="#cr" x="290" y="1495.6"/>
</g>

<g id="Mapper">
<rect class="nb" x="315.3" y="1020.9" width="299" height="461.7"/>
<path class="sp" d="M316.3,1050.3H613.3M316.3,1231.1H613.3"/>
<rect class="ms" x="316.5" y="1465.5" width="296.6" height="15.9"/>
<svg x="315.3" y="1020.9" width="299" height="461.7" viewBox="315.3 1020.9 299 461.7">
<text class="tt" x="464.8" y="1035.6" font-size="21.5">+ Mapper</text>
<text class="s" x="317.5" y="1056">+ «property» Marker : Line = {public get; }</text>
<text class="s" x="317.5" y="1066">+ «property» Marker2 : Rectangle = {public get; }</text>
<text class="s" x="317.5" y="1076.2">+ «property» SelectedItem : int = {public get; public set; }</text>
<text x="317.5" y="1088.8" font-size="12.5">+ readonly sim : Simulator</text>
<text x="317.5" y="1108.6" font-size="19.8">+ canv : Canvas</text>
<text x="317.5" y="1129.8" font-size="15.4">+ item_types : IGate[]</text>
<text x="317.5" y="1146.8" font-size="12.4">+ lock_self_connect : bool</text>
<text x="317.5" y="1168" font-size="21.8">+ tapped : bool</text>
<text x="317.5" y="1191.2" font-size="19">+ tap_pos : Point</text>
<text x="317.5" y="1210.6" font-size="11.1">+ readonly filer : FileHandler</text>
<text x="317.5" y="1223.3" font-size="11.1">+ current_scheme : Scheme</text>
<text x="317.5" y="1242" font-size="15.4">+ get_Marker (): Line</text>
<text x="317.5" y="1258.4" font-size="11.1">+ get_Marker2 (): Rectangle</text>
<text x="317.5" y="1271.7" font-size="12.6">+ get_SelectedItem (): int</text>
<text class="s" x="317.5" y="1284.7" font-size="8.8">+ set_SelectedItem (value : int): void</text>
<text x="317.5" y="1297" font-size="11.2">+ GenSelectedItem (): IGate</text>
<text x="317.5" y="1310.3" font-size="10.9">+ AddItem (item : IGate): void</text>
<text x="317.5" y="1321.2" font-size="9.6">+ RemoveItem (item : IGate): void</text>
<text x="317.5" y="1338.2" font-size="16">+ RemoveAll (): void</text>
<text class="s" x="317.5" y="1351.5">+ Press (item : Control, pos : Point): void</text>
<text class="s" x="317.5" y="1361.8">+ FixItem (res : ref Control, pos : Point, items : IEnumerable&lt;ILogical&gt;): void</text>
<text class="s" x="317.5" y="1371.7">+ Move (item : Control, pos : Point): void</text>
<text class="s" x="317.5" y="1381.6">+ Release (item : Control, pos : Point): int</text>
<text class="s" x="317.5" y="1391.8">+ WheelMove (item : Control, move : double, pos : Point): void</text>
<text class="s" x="317.5" y="1401.7">+ KeyPressed (_ : Control, key : Key): void</text>
<text x="317.5" y="1420.5" font-size="20.7">+ Export (): void</text>
<text x="317.5" y="1439.2" font-size="13.3">+ ImportScheme (): void</text>
<text x="317.5" y="1455.9" font-size="14.5">+ «create» .ctor (): self</text>
</svg>
<use href="#cr" x="598.3" y="1466.6"/>
</g>

<g id="Simulator">
<rect class="nb" x="670.7" y="1271" width="190.6" height="139.9"/>
<path class="sp" d="M671.7,1293.2H860.3M671.7,1307.9H860.3"/>
<svg x="670.7" y="1271" width="190.6" height="139.9" viewBox="670.7 1271 190.6 139.9">
<text class="tt" x="766" y="1282.3" font-size="16.3">+ Simulator</text>
<text x="673" y="1301" font-size="11">+ lock_sim : bool</text>
<text x="673" y="1317.1" font-size="13.2">+ Start (): void</text>
<text x="673" y="1332.4" font-size="13.8">+ Stop (): void</text>
<text class="s" x="673" y="1346.8">+ AddItem (item : IGate): void</text>
<text class="s" x="673" y="1357">+ RemoveItem (item : IGate): void</text>
<text x="673" y="1369.3" font-size="11.2">+ Export (): string</text>
<text class="s" x="673" y="1379.9">+ Import (state : string): void</text>
<text x="673" y="1392.8" font-size="13">+ Clear (): void</text>
<text class="s" x="673" y="1405.8" font-size="7.5">+ «create» .ctor (): self</text>
</svg>
<use href="#cr" x="845.3" y="1394.9"/>
</g>

<g id="FileHandler">
<rect class="nb" x="647.7" y="1427" width="210.3" height="88"/>
<path class="sp" d="M648.7,1467.2H857"/>
<svg x="647.7" y="1427" width="210.3" height="88" viewBox="647.7 1427 210.3 88">
<text class="tt" x="752.8" y="1447.8" font-size="31.8">+ FileHandler</text>
<text x="650" y="1480.2" font-size="15.9">+ CreateProject (): Project</text>
<text x="650" y="1501.3" font-size="18.4">+ «create» .ctor (): self</text>
</svg>
<use href="#cr" x="842" y="1499"/>
</g>

<g id="Project">
<rect class="nb" x="898" y="1131.8" width="329.1" height="383.2"/>
<path class="sp" d="M899,1156.7H1226.1M899,1242.7H1226.1"/>
<svg x="898" y="1131.8" width="329.1" height="383.2" viewBox="898 1131.8 329.1 383.2">
<text class="tt" x="1062.5" y="1144.1" font-size="18.5">+ Project</text>
<text class="s" x="900.5" y="1162.9">+ «property» Name : string = {public get; private set; }</text>
<text class="s" x="900.5" y="1173.1">+ «property» FileDir : string = {public get; private set; }</text>
<text class="s" x="900.5" y="1183">+ «property» FileName : string = {public get; public set; }</text>
<text x="900.5" y="1199.4" font-size="18.6">+ Created : long</text>
<text x="900.5" y="1221.5" font-size="18.6">+ Modified : long</text>
<text class="s" x="900.5" y="1236.9">+ schemes : ObservableCollection&lt;Scheme&gt;</text>
<text x="900.5" y="1252.9" font-size="14.4">+ get_Name (): string</text>
<text x="900.5" y="1270" font-size="14.3">+ get_FileDir (): string</text>
<text x="900.5" y="1285" font-size="12.6">+ get_FileName (): string</text>
<text class="s" x="900.5" y="1297.6" font-size="8.5">+ set_FileName (value : string): void</text>
<text x="900.5" y="1308.9" font-size="10.8">+ CreateScheme (): Scheme</text>
<text class="s" x="900.5" y="1320.5" font-size="8.5">+ AddScheme (prev : Scheme): Scheme</text>
<text class="s" x="900.5" y="1330.7" font-size="8.5">+ RemoveScheme (me : Scheme): void</text>
<text x="900.5" y="1344.4" font-size="15.1">+ UpdateList (): void</text>
<text x="900.5" y="1360.1" font-size="10.2">+ GetFirstScheme (): Scheme</text>
<text x="900.5" y="1376.8" font-size="17.7">+ Export (): object</text>
<text x="900.5" y="1398.3" font-size="18.8">+ Save (): void</text>
<text x="900.5" y="1415.3" font-size="10.1">+ CompareTo (obj : object): int</text>
<text x="900.5" y="1430.7" font-size="15.6">+ ToString (): string</text>
<text x="900.5" y="1450.2" font-size="16.4">+ CanSave (): bool</text>
<text x="900.5" y="1466.2" font-size="10.1">+ SaveAs (mw : Window): void</text>
<text class="s" x="900.5" y="1476.4">+ «create» .ctor (parent : FileHandler): self</text>
<text class="s" x="900.5" y="1486.7">+ «create» .ctor (parent : FileHandler, dir : string, fileName : string, data : object): self</text>
<text class="s" x="900.5" y="1496.9">+ «create» .ctor (parent : FileHandler): self</text>
<text class="s" x="900.5" y="1507.1">+ «create» .ctor (parent : FileHandler, dir : string, fileName : string, data : object): self</text>
</svg>
<use href="#cr" x="1211.1" y="1499"/>
</g>

<g id="Scheme">
<rect class="nb" x="1291.8" y="1049.9" width="270.5" height="468.5"/>
<path class="sp" d="M1292.8,1080H1561.3M1292.8,1262.5H1561.3"/>
<svg x="1291.8" y="1049.9" width="270.5" height="468.5" viewBox="1291.8 1049.9 270.5 468.5">
<text class="tt" x="1427" y="1065.3" font-size="23">+ Scheme</text>
<text class="s" x="1294.3" y="1085.7">+ «property» Name : string = {public get; public set; }</text>
<text class="s" x="1294.3" y="1096">+ «property» Open : ReactiveCommand&lt;Unit, Unit&gt; = {public get; }</text>
<text class="s" x="1294.3" y="1105.9">+ «property» NewItem : ReactiveCommand&lt;Unit, Unit&gt; = {public get; }</text>
<text class="s" x="1294.3" y="1116.1">+ «property» Delete : ReactiveCommand&lt;Unit, Unit&gt; = {public get; }</text>
<text class="s" x="1294.3" y="1126">+ «property» CanUseSchemeDeleter : bool = {public get; }</text>
<text class="s" x="1294.3" y="1135.9">+ «property» CanOpenMe : bool = {public get; }</text>
<text x="1294.3" y="1153.3" font-size="21.9">+ Created : long</text>
<text x="1294.3" y="1176.5" font-size="22.5">+ Modified : long</text>
<text x="1294.3" y="1199.4" font-size="19">+ items : object[]</text>
<text x="1294.3" y="1224.3" font-size="20.5">+ joins : object[]</text>
<text x="1294.3" y="1249.9" font-size="20.7">+ states : string</text>
<text x="1294.3" y="1273.4" font-size="15">+ get_Name (): string</text>
<text x="1294.3" y="1286.4" font-size="8.8">+ set_Name (value : string): void</text>
<text class="s" x="1294.3" y="1297.6">+ Update (items : object[], joins : object[], states : string): void</text>
<text x="1294.3" y="1313.7" font-size="18.5">+ Update (): void</text>
<text x="1294.3" y="1336.9" font-size="17.7">+ Export (): object</text>
<text class="s" x="1294.3" y="1351.9">+ Update (items : object[], joins : object[], states : string): void</text>
<text x="1294.3" y="1368.3" font-size="18.5">+ Update (): void</text>
<text x="1294.3" y="1389.8" font-size="16.5">+ ToString (): string</text>
<text class="s" x="1294.3" y="1404.8">+ get_Open (): ReactiveCommand&lt;Unit, Unit&gt;</text>
<text class="s" x="1294.3" y="1415">+ get_NewItem (): ReactiveCommand&lt;Unit, Unit&gt;</text>
<text class="s" x="1294.3" y="1424.9">+ get_Delete (): ReactiveCommand&lt;Unit, Unit&gt;</text>
<text class="s" x="1294.3" y="1434.8">+ get_CanUseSchemeDeleter (): bool</text>
<text x="1294.3" y="1447.8" font-size="11.8">+ get_CanOpenMe (): bool</text>
<text x="1294.3" y="1463.8" font-size="13.7">+ UpdateProps (): void</text>
<text x="1294.3" y="1477.5" font-size="10">+ «create» .ctor (p : Project): self</text>
<text class="s" x="1294.3" y="1489.4">+ «create» .ctor (p : Project, data : object): self</text>
<text x="1294.3" y="1499.6" font-size="10">+ «create» .ctor (p : Project): self</text>
<text class="s" x="1294.3" y="1510.9">+ «create» .ctor (p : Project, data : object): self</text>
</svg>
<use href="#cr" x="1546.3" y="1502.4"/>
</g>

<g id="Meta">
<rect class="nb" x="888" y="851.5" width="190.2" height="141"/>
<path class="sp" d="M889,876.2H1077.2M889,964H1077.2"/>
<svg x="888" y="851.5" width="190.2" height="141" viewBox="888 851.5 190.2 141">
<text class="tt" x="983.1" y="865" font-size="18.9">+ Meta</text>
<text x="890.5" y="886" font-size="12.9">+ item : IGate</text>
<text x="890.5" y="905" font-size="17.4">+ ins : int[]</text>
<text x="890.5" y="924.5" font-size="15.5">+ outs : int[]</text>
<text x="890.5" y="941.4" font-size="12.5">+ i_buf : bool[]</text>
<text x="890.5" y="955.6" font-size="11.9">+ o_buf : bool[]</text>
<text x="890.5" y="972.5" font-size="13">+ Print (): void</text>
<text class="s" x="890.5" y="986" font-size="7.5">+ «create» .ctor (item : IGate, out_id : int): self</text>
</svg>
<use href="#cr" x="1062.2" y="976.5"/>
</g>

<g id="IfaceA">
<rect class="nb" x="897.9" y="582.8" width="54.2" height="54.1"/>
<path class="sp" d="M898.9,625H951.1M898.9,629.5H951.1"/>
<rect class="ms" x="899.1" y="632" width="51.8" height="3.7"/>
<text class="pl" x="911" y="605.5">+</text>
<use href="#cr" x="936.1" y="620.9"/>
</g>
<g id="IfaceB">
<rect class="nb" x="897" y="746" width="54.4" height="54.2"/>
<path class="sp" d="M898,788.5H950.4M898,793H950.4"/>
<rect class="ms" x="898.2" y="795.5" width="52" height="3.5"/>
<text class="pl" x="910" y="768.7">+</text>
<use href="#cr" x="935.4" y="784.2"/>
</g>
<g id="IfaceC">
<rect class="nb" x="1082.9" y="1021.9" width="54.2" height="54"/>
<path class="sp" d="M1083.9,1064H1136.1M1083.9,1068.5H1136.1"/>
<rect class="ms" x="1084.1" y="1071" width="51.8" height="3.7"/>
<text class="pl" x="1085.5" y="1044.1">+</text>
<use href="#cr" x="1121.1" y="1059.9"/>
</g>
<g id="IfaceD">
<rect class="nb" x="1211" y="1053" width="54" height="53.9"/>
<path class="sp" d="M1212,1095H1264M1212,1099.5H1264"/>
<rect class="ms" x="1212.2" y="1102" width="51.6" height="3.7"/>
<text class="pl" x="1224" y="1074.8">+</text>
<use href="#cr" x="1249" y="1090.9"/>
</g>

<g id="connectors">
<path class="e d" d="M396,30 L1218.6,29" marker-end="url(#chev)"/>
<path class="e" d="M396,48 L902.5,50.5" marker-start="url(#dia)"/>
<path class="e" d="M441,113 L396,113.3" marker-end="url(#tri)"/>
<path class="e" d="M653,205 L396,205.7" marker-end="url(#tri)"/>
<path class="e" d="M442,252.3 L396,252.3" marker-end="url(#tri)"/>
<path class="e" d="M655,366.7 L396,370.7" marker-end="url(#tri)"/>
<path class="e" d="M442,403 L396,406" marker-end="url(#tri)"/>
<path class="e" d="M659,539 L396,540" marker-end="url(#tri)"/>
<path class="e" d="M445,590.6 L396,593" marker-end="url(#tri)"/>
<path class="e" d="M667,721.4 L396,723" marker-end="url(#tri)"/>
<path class="e" d="M440,768.7 L396,769.4" marker-end="url(#tri)"/>
<path class="e" d="M680,930 L396,931.6" marker-end="url(#tri)"/>
<path class="e d" d="M649,118.3 L902.5,117.3" marker-end="url(#tri)"/>
<path class="e d" d="M858,159.3 L902.5,156.7" marker-end="url(#tri)"/>
<path class="e d" d="M643,283 L902.5,280" marker-end="url(#tri)"/>
<path class="e d" d="M858,346.7 L902.5,343.3" marker-end="url(#tri)"/>
<path class="e d" d="M646,433.3 L902.5,433.3" marker-end="url(#tri)"/>
<path class="e d" d="M864,473.3 L902.5,472.7" marker-end="url(#tri)"/>
<path class="e d" d="M645,599.7 L897.9,601.4" marker-end="url(#tri)"/>
<path class="e d" d="M857.3,631 L897.9,629.5" marker-end="url(#tri)"/>
<path class="e d" d="M660,770.4 L897,770.4" marker-end="url(#tri)"/>
<path class="e d" d="M870,838 L897,792" marker-end="url(#tri)"/>
<path class="e d" d="M919.3,746 L919.3,636.9" marker-end="url(#tri)"/>
<path class="e d" d="M920.4,582.8 L920.4,501.7" marker-end="url(#tri)"/>
<path class="e d" d="M396,961.4 L888,961.4" marker-end="url(#chev)"/>
<path class="e" d="M396,983.4 L888,983.4" marker-start="url(#dia)"/>
<path class="e d" d="M989,851.5 L990,501.7" marker-end="url(#chev)"/>
<path class="e d" d="M1023.6,501.7 L1023.6,851.5" marker-end="url(#chev)"/>
<path class="e" d="M1047,501.7 L1054,851.5" marker-start="url(#dia)"/>
<path class="e d" d="M1093.6,1021.9 L1090,501.7" marker-end="url(#chev)"/>
<path class="e d" d="M1184.3,270.7 L1229,270.7" marker-end="url(#chev)"/>
<path class="e d" d="M1312,220 L1312,257.3" marker-end="url(#chev)"/>
<path class="e d" d="M614.3,1052.6 L1082.9,1057.8" marker-end="url(#chev)"/>
<path class="e d" d="M1211,1091.9 L614.3,1083.4" marker-end="url(#chev)"/>
<path class="e d" d="M1241.4,1007 L1241.4,1053" marker-end="url(#chev)"/>
<path class="e d" d="M614.3,1347.8 L670.7,1346.5" marker-end="url(#chev)"/>
<path class="e d" d="M614.3,1460.4 L647.7,1453.6" marker-end="url(#chev)"/>
<path class="e" d="M647.7,1493.8 L306,1492.8" marker-end="url(#chev)"/>
<path class="e d" d="M898,1462 L858,1462" marker-end="url(#chev)"/>
<path class="e d" d="M858,1493.8 L898,1494.5" marker-end="url(#chev)"/>
<path class="e d" d="M1291.8,1406 L1227.1,1404.8" marker-end="url(#chev)"/>
<path class="e" d="M1227.1,1449.5 L1291.8,1450" marker-start="url(#dia)"/>
<path class="e d" d="M1227.1,1493.8 L1291.8,1494.5" marker-end="url(#chev)"/>
<path class="e" d="M1612.5,1298 L1561.7,1354.6" marker-start="url(#dia)"/>
<path class="e" d="M1708.3,1376.1 L1706.7,1336.9" marker-end="url(#chev)"/>
<path class="e d" d="M1850,914 L1849,951.9" marker-end="url(#chev)"/>
<path class="e" d="M1611.7,975 L1419.3,977.6" marker-end="url(#tri)"/>
<path class="e" d="M1503.3,904.6 L1419.3,932.9" marker-end="url(#tri)"/>
<path class="e" d="M1470,837.3 L1503.3,837.3" marker-end="url(#chev)"/>
<path class="e" d="M1468.3,674.1 L1433,773.1" marker-end="url(#chev)"/>
<path class="e" d="M1596.7,609.9 L1521,608.5" marker-end="url(#chev)"/>
</g>
</svg>
